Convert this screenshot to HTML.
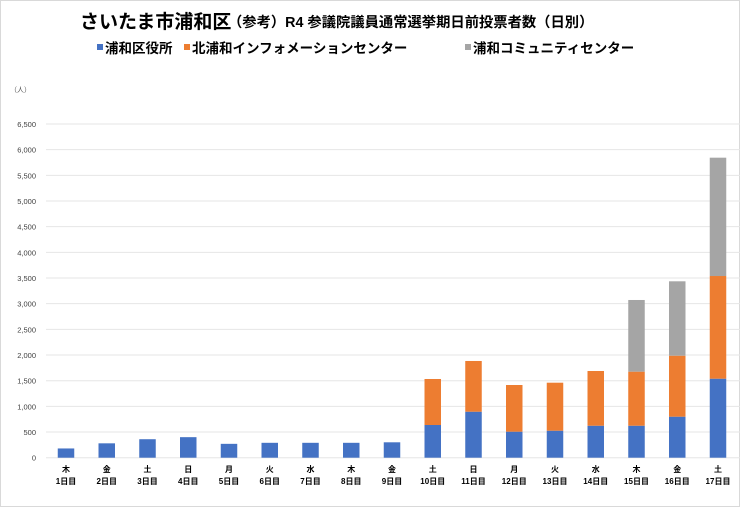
<!DOCTYPE html>
<html><head><meta charset="utf-8">
<style>
body{margin:0;background:#fff;font-family:"Liberation Sans","Noto Sans CJK JP",sans-serif;}
#wrap{position:relative;width:740px;height:507px;overflow:hidden;}
svg text{font-family:"Liberation Sans","Noto Sans CJK JP",sans-serif;}
</style></head><body>
<div id="wrap">
<svg id="chart" width="740" height="507">
<rect x="0.5" y="0.5" width="739" height="506" fill="#fff" stroke="#d9d9d9"/>
<text x="80" y="28" font-size="19" font-weight="bold" fill="#000">さいたま市浦和区</text>
<text x="228" y="27" font-size="14.3" font-weight="bold" fill="#000">（参考）R4 参議院議員通常選挙期日前投票者数（日別）</text>
<g>
<rect x="97" y="44" width="6" height="6" fill="#4472c4"/>
<text x="105" y="53" font-size="13.5" font-weight="bold">浦和区役所</text>
<rect x="184" y="44" width="6" height="6" fill="#ed7d31"/>
<text x="192" y="53" font-size="13.5" font-weight="bold">北浦和インフォメーションセンター</text>
<rect x="465" y="44" width="6" height="6" fill="#a5a5a5"/>
<text x="473" y="53" font-size="13.5" font-weight="bold">浦和コミュニティセンター</text>
</g>
<text x="10" y="92" font-size="7" fill="#595959">（人）</text>
<g id="grid"></g><g id="bars"></g><g id="labels"></g>
</svg>
</div>
<script>
const days=["1日目","2日目","3日目","4日目","5日目","6日目","7日目","8日目","9日目","10日目","11日目","12日目","13日目","14日目","15日目","16日目","17日目"];
const weekdays=["木","金","土","日","月","火","水","木","金","土","日","月","火","水","木","金","土"];
const wardOffice=[180,280,360,400,270,290,290,290,300,637,896,507,526,623,623,799,1539];
const kitaUrawa=[0,0,0,0,0,0,0,0,0,896,988,909,935,1066,1053,1188,2000];
const community=[0,0,0,0,0,0,0,0,0,0,0,0,0,0,1396,1449,2305];
const yTicks=[0,500,1000,1500,2000,2500,3000,3500,4000,4500,5000,5500,6000,6500];
const tickLabels=["0","500","1,000","1,500","2,000","2,500","3,000","3,500","4,000","4,500","5,000","5,500","6,000","6,500"];
const NS="http://www.w3.org/2000/svg";
const y0=457.7, ymax=124, vmax=6500;
const y=v=>y0-(v/vmax)*(y0-ymax);
const x0=46, step=40.75;
const xc=i=>x0+20+i*step;
const bw=16.5;
function mk(t,a,p){const e=document.createElementNS(NS,t);for(const k in a)e.setAttribute(k,a[k]);p.appendChild(e);return e;}
const grid=document.getElementById('grid'),bars=document.getElementById('bars'),labels=document.getElementById('labels');
yTicks.forEach((v,i)=>{
  const l=mk('line',{x1:46,x2:740,y1:y(v),y2:y(v),stroke:'#e6e6e6','stroke-width':1},grid);
  
  
  const t=mk('text',{x:36,y:y(v)+3,'font-size':7.5,'text-anchor':'end',fill:'#404040'},grid);
  t.textContent=tickLabels[i];
  
  
});
const series=[[wardOffice,'#4472c4','bar-ward-office'],[kitaUrawa,'#ed7d31','bar-kita-urawa'],[community,'#a5a5a5','bar-community']];
days.forEach((d,i)=>{
  let base=0;
  series.forEach(s=>{
    const v=s[0][i];
    if(v>0){
      const r=mk('rect',{x:xc(i)-bw/2,y:y(base+v),width:bw,height:y(base)-y(base+v),fill:s[1]},bars);
      
      
    }
    base+=v;
  });
  const t1=mk('text',{x:xc(i),y:472,'font-size':8,'font-weight':'bold','text-anchor':'middle'},labels);
  t1.textContent=weekdays[i];
  
  
  const t2=mk('text',{x:xc(i),y:484,'font-size':8,'font-weight':'bold','text-anchor':'middle'},labels);
  t2.textContent=d;
  
  
});
</script>
</body></html>
